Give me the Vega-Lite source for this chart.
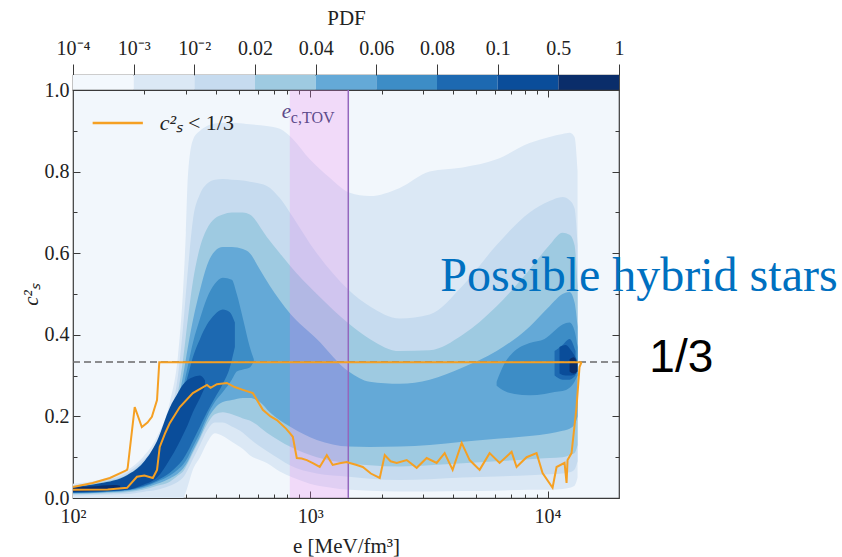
{
"$schema": "https://vega.github.io/schema/vega-lite/v6.json",
"background": "white",
"padding": {"left": 19, "top": 6, "right": 0, "bottom": 0},
"spacing": 0,
"bounds": "flush",
"datasets": {
"cbar": [
{"lvl":1,"a":0,"b":1},{"lvl":2,"a":1,"b":2},{"lvl":3,"a":2,"b":3},{"lvl":4,"a":3,"b":4},{"lvl":5,"a":4,"b":5},{"lvl":6,"a":5,"b":6},{"lvl":7,"a":6,"b":7},{"lvl":8,"a":7,"b":8},{"lvl":9,"a":8,"b":9}
],
"cont": [
{"lvl":2,"part":"a","e":100,"lo":0,"hi":0.035},{"lvl":2,"part":"a","e":130,"lo":0,"hi":0.045},{"lvl":2,"part":"a","e":169,"lo":0,"hi":0.068},{"lvl":2,"part":"a","e":197,"lo":0,"hi":0.10},{"lvl":2,"part":"a","e":226,"lo":0,"hi":0.15},{"lvl":2,"part":"a","e":256,"lo":0,"hi":0.235},{"lvl":2,"part":"a","e":277,"lo":0,"hi":0.35},{"lvl":2,"part":"a","e":291,"lo":0,"hi":0.51},{"lvl":2,"part":"a","e":299,"lo":0.015,"hi":0.65},{"lvl":2,"part":"a","e":305,"lo":0.03,"hi":0.79},{"lvl":2,"part":"a","e":320,"lo":0.069,"hi":0.877},{"lvl":2,"part":"a","e":343,"lo":0.10,"hi":0.90},{"lvl":2,"part":"a","e":367,"lo":0.135,"hi":0.912},{"lvl":2,"part":"a","e":396,"lo":0.159,"hi":0.918},{"lvl":2,"part":"a","e":428,"lo":0.152,"hi":0.92},{"lvl":2,"part":"a","e":467,"lo":0.138,"hi":0.92},{"lvl":2,"part":"a","e":520,"lo":0.12,"hi":0.918},{"lvl":2,"part":"a","e":556,"lo":0.105,"hi":0.916},{"lvl":2,"part":"a","e":656,"lo":0.086,"hi":0.912},{"lvl":2,"part":"a","e":744,"lo":0.065,"hi":0.905},{"lvl":2,"part":"a","e":844,"lo":0.05,"hi":0.88},{"lvl":2,"part":"a","e":995,"lo":0.035,"hi":0.83},{"lvl":2,"part":"a","e":1208,"lo":0.026,"hi":0.785},{"lvl":2,"part":"a","e":1466,"lo":0.02,"hi":0.748},{"lvl":2,"part":"a","e":1780,"lo":0.018,"hi":0.74},{"lvl":2,"part":"a","e":2382,"lo":0.016,"hi":0.76},{"lvl":2,"part":"a","e":3185,"lo":0.016,"hi":0.80},{"lvl":2,"part":"a","e":4387,"lo":0.017,"hi":0.81},{"lvl":2,"part":"a","e":6100,"lo":0.018,"hi":0.83},{"lvl":2,"part":"a","e":8400,"lo":0.02,"hi":0.87},{"lvl":2,"part":"a","e":10195,"lo":0.02,"hi":0.885},{"lvl":2,"part":"a","e":11566,"lo":0.022,"hi":0.892},{"lvl":2,"part":"a","e":12380,"lo":0.025,"hi":0.895},{"lvl":2,"part":"a","e":12990,"lo":0.03,"hi":0.885},{"lvl":2,"part":"a","e":13380,"lo":0.05,"hi":0.80},

{"lvl":3,"part":"a","e":100,"lo":0.006,"hi":0.031},{"lvl":3,"part":"a","e":130,"lo":0.008,"hi":0.041},{"lvl":3,"part":"a","e":169,"lo":0.01,"hi":0.062},{"lvl":3,"part":"a","e":197,"lo":0.015,"hi":0.092},{"lvl":3,"part":"a","e":226,"lo":0.02,"hi":0.135},{"lvl":3,"part":"a","e":256,"lo":0.03,"hi":0.205},{"lvl":3,"part":"a","e":277,"lo":0.04,"hi":0.30},{"lvl":3,"part":"a","e":291,"lo":0.05,"hi":0.42},{"lvl":3,"part":"a","e":305,"lo":0.07,"hi":0.56},{"lvl":3,"part":"a","e":320,"lo":0.095,"hi":0.68},{"lvl":3,"part":"a","e":343,"lo":0.13,"hi":0.745},{"lvl":3,"part":"a","e":367,"lo":0.165,"hi":0.77},{"lvl":3,"part":"a","e":396,"lo":0.185,"hi":0.78},{"lvl":3,"part":"a","e":428,"lo":0.185,"hi":0.782},{"lvl":3,"part":"a","e":467,"lo":0.175,"hi":0.78},{"lvl":3,"part":"a","e":520,"lo":0.16,"hi":0.778},{"lvl":3,"part":"a","e":556,"lo":0.145,"hi":0.775},{"lvl":3,"part":"a","e":656,"lo":0.115,"hi":0.765},{"lvl":3,"part":"a","e":744,"lo":0.095,"hi":0.735},{"lvl":3,"part":"a","e":820,"lo":0.08,"hi":0.70},{"lvl":3,"part":"a","e":1065,"lo":0.06,"hi":0.60},{"lvl":3,"part":"a","e":1452,"lo":0.052,"hi":0.51},{"lvl":3,"part":"a","e":1780,"lo":0.047,"hi":0.47},{"lvl":3,"part":"a","e":2382,"lo":0.044,"hi":0.44},{"lvl":3,"part":"a","e":3185,"lo":0.046,"hi":0.45},{"lvl":3,"part":"a","e":4387,"lo":0.05,"hi":0.52},{"lvl":3,"part":"a","e":6100,"lo":0.053,"hi":0.62},{"lvl":3,"part":"a","e":8400,"lo":0.056,"hi":0.70},{"lvl":3,"part":"a","e":10195,"lo":0.058,"hi":0.728},{"lvl":3,"part":"a","e":11566,"lo":0.06,"hi":0.738},{"lvl":3,"part":"a","e":12380,"lo":0.063,"hi":0.73},{"lvl":3,"part":"a","e":12990,"lo":0.07,"hi":0.71},{"lvl":3,"part":"a","e":13380,"lo":0.09,"hi":0.62},

{"lvl":4,"part":"a","e":100,"lo":0.009,"hi":0.029},{"lvl":4,"part":"a","e":130,"lo":0.011,"hi":0.038},{"lvl":4,"part":"a","e":169,"lo":0.014,"hi":0.057},{"lvl":4,"part":"a","e":197,"lo":0.02,"hi":0.086},{"lvl":4,"part":"a","e":226,"lo":0.03,"hi":0.125},{"lvl":4,"part":"a","e":256,"lo":0.04,"hi":0.185},{"lvl":4,"part":"a","e":277,"lo":0.055,"hi":0.26},{"lvl":4,"part":"a","e":291,"lo":0.065,"hi":0.34},{"lvl":4,"part":"a","e":305,"lo":0.085,"hi":0.44},{"lvl":4,"part":"a","e":320,"lo":0.11,"hi":0.53},{"lvl":4,"part":"a","e":343,"lo":0.145,"hi":0.615},{"lvl":4,"part":"a","e":367,"lo":0.18,"hi":0.66},{"lvl":4,"part":"a","e":396,"lo":0.205,"hi":0.685},{"lvl":4,"part":"a","e":428,"lo":0.21,"hi":0.695},{"lvl":4,"part":"a","e":467,"lo":0.205,"hi":0.70},{"lvl":4,"part":"a","e":520,"lo":0.195,"hi":0.70},{"lvl":4,"part":"a","e":556,"lo":0.19,"hi":0.695},{"lvl":4,"part":"a","e":656,"lo":0.16,"hi":0.64},{"lvl":4,"part":"a","e":744,"lo":0.14,"hi":0.60},{"lvl":4,"part":"a","e":820,"lo":0.126,"hi":0.57},{"lvl":4,"part":"a","e":1065,"lo":0.10,"hi":0.50},{"lvl":4,"part":"a","e":1452,"lo":0.085,"hi":0.428},{"lvl":4,"part":"a","e":1780,"lo":0.08,"hi":0.39},{"lvl":4,"part":"a","e":2382,"lo":0.077,"hi":0.36},{"lvl":4,"part":"a","e":3185,"lo":0.08,"hi":0.362},{"lvl":4,"part":"a","e":4387,"lo":0.085,"hi":0.40},{"lvl":4,"part":"a","e":6100,"lo":0.09,"hi":0.47},{"lvl":4,"part":"a","e":8400,"lo":0.095,"hi":0.56},{"lvl":4,"part":"a","e":10195,"lo":0.098,"hi":0.62},{"lvl":4,"part":"a","e":11566,"lo":0.10,"hi":0.65},{"lvl":4,"part":"a","e":12380,"lo":0.105,"hi":0.645},{"lvl":4,"part":"a","e":12990,"lo":0.11,"hi":0.62},{"lvl":4,"part":"a","e":13380,"lo":0.13,"hi":0.52},

{"lvl":5,"part":"a","e":100,"lo":0.011,"hi":0.027},{"lvl":5,"part":"a","e":130,"lo":0.013,"hi":0.035},{"lvl":5,"part":"a","e":169,"lo":0.017,"hi":0.053},{"lvl":5,"part":"a","e":197,"lo":0.024,"hi":0.08},{"lvl":5,"part":"a","e":226,"lo":0.035,"hi":0.117},{"lvl":5,"part":"a","e":256,"lo":0.048,"hi":0.172},{"lvl":5,"part":"a","e":277,"lo":0.06,"hi":0.24},{"lvl":5,"part":"a","e":291,"lo":0.072,"hi":0.30},{"lvl":5,"part":"a","e":305,"lo":0.09,"hi":0.37},{"lvl":5,"part":"a","e":320,"lo":0.115,"hi":0.435},{"lvl":5,"part":"a","e":343,"lo":0.15,"hi":0.51},{"lvl":5,"part":"a","e":367,"lo":0.19,"hi":0.57},{"lvl":5,"part":"a","e":396,"lo":0.22,"hi":0.605},{"lvl":5,"part":"a","e":428,"lo":0.235,"hi":0.615},{"lvl":5,"part":"a","e":467,"lo":0.24,"hi":0.615},{"lvl":5,"part":"a","e":520,"lo":0.245,"hi":0.61},{"lvl":5,"part":"a","e":556,"lo":0.245,"hi":0.60},{"lvl":5,"part":"a","e":613,"lo":0.235,"hi":0.56},{"lvl":5,"part":"a","e":675,"lo":0.21,"hi":0.52},{"lvl":5,"part":"a","e":820,"lo":0.175,"hi":0.453},{"lvl":5,"part":"a","e":1065,"lo":0.142,"hi":0.39},{"lvl":5,"part":"a","e":1452,"lo":0.126,"hi":0.31},{"lvl":5,"part":"a","e":1780,"lo":0.125,"hi":0.285},{"lvl":5,"part":"a","e":2382,"lo":0.126,"hi":0.28},{"lvl":5,"part":"a","e":3185,"lo":0.13,"hi":0.29},{"lvl":5,"part":"a","e":4387,"lo":0.138,"hi":0.32},{"lvl":5,"part":"a","e":6100,"lo":0.145,"hi":0.36},{"lvl":5,"part":"a","e":8400,"lo":0.152,"hi":0.42},{"lvl":5,"part":"a","e":10195,"lo":0.158,"hi":0.47},{"lvl":5,"part":"a","e":11566,"lo":0.165,"hi":0.50},{"lvl":5,"part":"a","e":12380,"lo":0.17,"hi":0.505},{"lvl":5,"part":"a","e":12990,"lo":0.18,"hi":0.48},{"lvl":5,"part":"a","e":13380,"lo":0.2,"hi":0.42},

{"lvl":6,"part":"a","e":100,"lo":0.012,"hi":0.026},{"lvl":6,"part":"a","e":130,"lo":0.014,"hi":0.033},{"lvl":6,"part":"a","e":169,"lo":0.019,"hi":0.05},{"lvl":6,"part":"a","e":197,"lo":0.027,"hi":0.076},{"lvl":6,"part":"a","e":226,"lo":0.04,"hi":0.112},{"lvl":6,"part":"a","e":256,"lo":0.055,"hi":0.165},{"lvl":6,"part":"a","e":277,"lo":0.07,"hi":0.225},{"lvl":6,"part":"a","e":291,"lo":0.082,"hi":0.27},{"lvl":6,"part":"a","e":305,"lo":0.10,"hi":0.325},{"lvl":6,"part":"a","e":320,"lo":0.125,"hi":0.38},{"lvl":6,"part":"a","e":343,"lo":0.16,"hi":0.44},{"lvl":6,"part":"a","e":367,"lo":0.20,"hi":0.49},{"lvl":6,"part":"a","e":396,"lo":0.235,"hi":0.525},{"lvl":6,"part":"a","e":428,"lo":0.26,"hi":0.54},{"lvl":6,"part":"a","e":467,"lo":0.29,"hi":0.535},{"lvl":6,"part":"a","e":490,"lo":0.31,"hi":0.50},{"lvl":6,"part":"a","e":520,"lo":0.315,"hi":0.44},{"lvl":6,"part":"a","e":556,"lo":0.32,"hi":0.37},{"lvl":6,"part":"a","e":578,"lo":0.335,"hi":0.34},
{"lvl":6,"part":"b","e":6100,"lo":0.275,"hi":0.285},{"lvl":6,"part":"b","e":6590,"lo":0.262,"hi":0.33},{"lvl":6,"part":"b","e":7262,"lo":0.255,"hi":0.36},{"lvl":6,"part":"b","e":8400,"lo":0.252,"hi":0.38},{"lvl":6,"part":"b","e":9714,"lo":0.255,"hi":0.39},{"lvl":6,"part":"b","e":10703,"lo":0.26,"hi":0.41},{"lvl":6,"part":"b","e":11566,"lo":0.262,"hi":0.425},{"lvl":6,"part":"b","e":12380,"lo":0.27,"hi":0.43},{"lvl":6,"part":"b","e":12990,"lo":0.285,"hi":0.41},{"lvl":6,"part":"b","e":13380,"lo":0.30,"hi":0.37},

{"lvl":7,"part":"a","e":100,"lo":0.013,"hi":0.025},{"lvl":7,"part":"a","e":130,"lo":0.015,"hi":0.032},{"lvl":7,"part":"a","e":169,"lo":0.02,"hi":0.048},{"lvl":7,"part":"a","e":197,"lo":0.029,"hi":0.072},{"lvl":7,"part":"a","e":226,"lo":0.043,"hi":0.108},{"lvl":7,"part":"a","e":256,"lo":0.062,"hi":0.16},{"lvl":7,"part":"a","e":277,"lo":0.08,"hi":0.215},{"lvl":7,"part":"a","e":291,"lo":0.095,"hi":0.26},{"lvl":7,"part":"a","e":305,"lo":0.115,"hi":0.30},{"lvl":7,"part":"a","e":320,"lo":0.14,"hi":0.345},{"lvl":7,"part":"a","e":343,"lo":0.175,"hi":0.39},{"lvl":7,"part":"a","e":367,"lo":0.21,"hi":0.425},{"lvl":7,"part":"a","e":396,"lo":0.245,"hi":0.45},{"lvl":7,"part":"a","e":428,"lo":0.28,"hi":0.462},{"lvl":7,"part":"a","e":458,"lo":0.32,"hi":0.455},{"lvl":7,"part":"a","e":481,"lo":0.37,"hi":0.43},
{"lvl":7,"part":"b","e":10703,"lo":0.30,"hi":0.36},{"lvl":7,"part":"b","e":11566,"lo":0.29,"hi":0.375},{"lvl":7,"part":"b","e":12380,"lo":0.29,"hi":0.39},{"lvl":7,"part":"b","e":13120,"lo":0.30,"hi":0.36},

{"lvl":8,"part":"a","e":100,"lo":0.014,"hi":0.027},{"lvl":8,"part":"a","e":130,"lo":0.016,"hi":0.036},{"lvl":8,"part":"a","e":169,"lo":0.02,"hi":0.056},{"lvl":8,"part":"a","e":197,"lo":0.032,"hi":0.086},{"lvl":8,"part":"a","e":226,"lo":0.05,"hi":0.14},{"lvl":8,"part":"a","e":256,"lo":0.095,"hi":0.222},{"lvl":8,"part":"a","e":277,"lo":0.13,"hi":0.258},{"lvl":8,"part":"a","e":291,"lo":0.155,"hi":0.278},{"lvl":8,"part":"a","e":305,"lo":0.18,"hi":0.29},{"lvl":8,"part":"a","e":320,"lo":0.21,"hi":0.296},{"lvl":8,"part":"a","e":343,"lo":0.245,"hi":0.30},{"lvl":8,"part":"a","e":360,"lo":0.272,"hi":0.288},
{"lvl":8,"part":"b","e":11230,"lo":0.305,"hi":0.37},{"lvl":8,"part":"b","e":11904,"lo":0.30,"hi":0.375},{"lvl":8,"part":"b","e":12619,"lo":0.30,"hi":0.36},{"lvl":8,"part":"b","e":13246,"lo":0.305,"hi":0.34},

{"lvl":9,"part":"a","e":100,"lo":0.016,"hi":0.025},{"lvl":9,"part":"a","e":118,"lo":0.017,"hi":0.028},{"lvl":9,"part":"a","e":150,"lo":0.02,"hi":0.032},{"lvl":9,"part":"a","e":158,"lo":0.024,"hi":0.03},
{"lvl":9,"part":"b","e":12380,"lo":0.31,"hi":0.34},{"lvl":9,"part":"b","e":12870,"lo":0.305,"hi":0.345},{"lvl":9,"part":"b","e":13380,"lo":0.31,"hi":0.33}
],
"orange": [
{"part":"u","e":100,"c":0.027},{"part":"u","e":121,"c":0.037},{"part":"u","e":143,"c":0.049},{"part":"u","e":165,"c":0.066},{"part":"u","e":169,"c":0.069},{"part":"u","e":170,"c":0.074},{"part":"u","e":182,"c":0.223},{"part":"u","e":195,"c":0.174},{"part":"u","e":206,"c":0.185},{"part":"u","e":215,"c":0.199},{"part":"u","e":226,"c":0.240},{"part":"u","e":231,"c":0.333},{"part":"u","e":13906,"c":0.333},
{"part":"l","e":100,"c":0.020},{"part":"l","e":140,"c":0.021},{"part":"l","e":169,"c":0.025},{"part":"l","e":186,"c":0.052},{"part":"l","e":200,"c":0.055},{"part":"l","e":217,"c":0.049},{"part":"l","e":226,"c":0.069},{"part":"l","e":232,"c":0.125},{"part":"l","e":245,"c":0.16},{"part":"l","e":256,"c":0.184},{"part":"l","e":282,"c":0.223},{"part":"l","e":320,"c":0.257},{"part":"l","e":367,"c":0.277},{"part":"l","e":380,"c":0.27},{"part":"l","e":404,"c":0.279},{"part":"l","e":445,"c":0.282},{"part":"l","e":480,"c":0.272},{"part":"l","e":520,"c":0.265},{"part":"l","e":573,"c":0.257},{"part":"l","e":631,"c":0.216},{"part":"l","e":680,"c":0.20},{"part":"l","e":723,"c":0.191},{"part":"l","e":790,"c":0.17},{"part":"l","e":820,"c":0.159},{"part":"l","e":844,"c":0.150},{"part":"l","e":877,"c":0.098},{"part":"l","e":920,"c":0.097},{"part":"l","e":967,"c":0.093},{"part":"l","e":1030,"c":0.085},{"part":"l","e":1096,"c":0.076},{"part":"l","e":1174,"c":0.105},{"part":"l","e":1243,"c":0.081},{"part":"l","e":1330,"c":0.085},{"part":"l","e":1424,"c":0.088},{"part":"l","e":1466,"c":0.086},{"part":"l","e":1570,"c":0.081},{"part":"l","e":1664,"c":0.076},{"part":"l","e":1800,"c":0.06},{"part":"l","e":1962,"c":0.049},{"part":"l","e":2060,"c":0.105},{"part":"l","e":2180,"c":0.09},{"part":"l","e":2313,"c":0.086},{"part":"l","e":2549,"c":0.093},{"part":"l","e":2808,"c":0.074},{"part":"l","e":3094,"c":0.098},{"part":"l","e":3409,"c":0.086},{"part":"l","e":3684,"c":0.110},{"part":"l","e":3981,"c":0.069},{"part":"l","e":4345,"c":0.135},{"part":"l","e":4695,"c":0.093},{"part":"l","e":5172,"c":0.069},{"part":"l","e":5698,"c":0.110},{"part":"l","e":6278,"c":0.086},{"part":"l","e":7054,"c":0.113},{"part":"l","e":7405,"c":0.076},{"part":"l","e":8160,"c":0.100},{"part":"l","e":8989,"c":0.110},{"part":"l","e":9526,"c":0.061},{"part":"l","e":10497,"c":0.025},{"part":"l","e":10912,"c":0.076},{"part":"l","e":11792,"c":0.086},{"part":"l","e":12023,"c":0.037},{"part":"l","e":12140,"c":0.093},{"part":"l","e":12619,"c":0.110},{"part":"l","e":13246,"c":0.223},{"part":"l","e":13636,"c":0.321},{"part":"l","e":13906,"c":0.333}
]
},
"vconcat": [
{
"width": 546, "height": 15,
"data": {"name": "cbar"},
"mark": {"type": "rect"},
"encoding": {
"x": {"field": "a", "type": "quantitative", "scale": {"domain": [0, 9], "nice": false, "zero": false},
"axis": {"orient": "top", "values": [0,1,2,3,4,5,6,7,8,9], "labelExpr": "['10⁻⁴','10⁻³','10⁻²','0.02','0.04','0.06','0.08','0.1','0.5','1'][datum.value]", "tickSize": 11, "labelPadding": 6, "title": "PDF", "titlePadding": 10}},
"x2": {"field": "b"},
"color": {"field": "lvl", "type": "ordinal", "scale": {"domain": [1,2,3,4,5,6,7,8,9], "range": ["#f3f8fd","#dbe8f5","#c6dbef","#9ecae1","#64a9d7","#3d8dc6","#1d69b1","#0a4d9a","#0a2d6a"]}, "legend": null}
}
},
{
"width": 546, "height": 408,
"view": {"fill": "#f2f7fc"},
"resolve": {"axis": {"x": "independent", "y": "independent"}},
"layer": [
{"data": {"name": "cont"}, "transform": [{"filter": "datum.lvl == 2"}],
 "mark": {"type": "area", "interpolate": "monotone"},
 "encoding": {
  "x": {"field": "e", "type": "quantitative", "scale": {"type": "log", "domain": [100, 20000], "nice": false},
   "axis": {"orient": "bottom", "values": [100, 1000, 10000], "labelExpr": "datum.value == 100 ? '10²' : datum.value == 1000 ? '10³' : '10⁴'", "tickSize": -7, "labelPadding": 15, "title": "e [MeV/fm³]", "titlePadding": 9}},
  "y": {"field": "lo", "type": "quantitative", "scale": {"domain": [0, 1], "nice": false, "zero": false},
   "axis": {"orient": "left", "values": [0, 0.2, 0.4, 0.6, 0.8, 1], "format": ".1f", "tickSize": -7, "labelPadding": 11, "title": "c²ₛ", "titleFontStyle": "italic", "titlePadding": 3}},
  "y2": {"field": "hi"},
  "detail": {"field": "part"},
  "color": {"field": "lvl", "type": "ordinal", "scale": {"domain": [1,2,3,4,5,6,7,8,9], "range": ["#f3f8fd","#dbe8f5","#c6dbef","#9ecae1","#64a9d7","#3d8dc6","#1d69b1","#0a4d9a","#0a2d6a"]}, "legend": null}
 }},
{"data": {"name": "cont"}, "transform": [{"filter": "datum.lvl == 3"}],
 "mark": {"type": "area", "interpolate": "monotone"},
 "encoding": {
  "x": {"field": "e", "type": "quantitative", "scale": {"type": "log", "domain": [100, 20000], "nice": false},
   "axis": {"orient": "bottom", "values": [200,300,400,500,600,700,800,900,2000,3000,4000,5000,6000,7000,8000,9000], "labels": false, "tickSize": -4, "title": null}},
  "y": {"field": "lo", "type": "quantitative", "scale": {"domain": [0, 1], "nice": false, "zero": false},
   "axis": {"orient": "left", "values": [0.1, 0.3, 0.5, 0.7, 0.9], "labels": false, "tickSize": -4, "title": null}},
  "y2": {"field": "hi"},
  "detail": {"field": "part"},
  "color": {"field": "lvl", "type": "ordinal", "legend": null}
 }},
{"data": {"name": "cont"}, "transform": [{"filter": "datum.lvl == 4"}],
 "mark": {"type": "area", "interpolate": "monotone"},
 "encoding": {
  "x": {"field": "e", "type": "quantitative", "scale": {"type": "log", "domain": [100, 20000], "nice": false},
   "axis": {"orient": "top", "values": [1000, 10000], "labels": false, "tickSize": -7, "title": null}},
  "y": {"field": "lo", "type": "quantitative", "scale": {"domain": [0, 1], "nice": false, "zero": false},
   "axis": {"orient": "right", "values": [0.2, 0.4, 0.6, 0.8], "labels": false, "tickSize": -7, "title": null}},
  "y2": {"field": "hi"},
  "detail": {"field": "part"},
  "color": {"field": "lvl", "type": "ordinal", "legend": null}
 }},
{"data": {"name": "cont"}, "transform": [{"filter": "datum.lvl == 5"}],
 "mark": {"type": "area", "interpolate": "monotone"},
 "encoding": {
  "x": {"field": "e", "type": "quantitative", "scale": {"type": "log", "domain": [100, 20000], "nice": false},
   "axis": {"orient": "top", "values": [200,300,400,500,600,700,800,900,2000,3000,4000,5000,6000,7000,8000,9000], "labels": false, "tickSize": -4, "title": null}},
  "y": {"field": "lo", "type": "quantitative", "scale": {"domain": [0, 1], "nice": false, "zero": false},
   "axis": {"orient": "right", "values": [0.1, 0.3, 0.5, 0.7, 0.9], "labels": false, "tickSize": -4, "title": null}},
  "y2": {"field": "hi"},
  "detail": {"field": "part"},
  "color": {"field": "lvl", "type": "ordinal", "legend": null}
 }},
{"data": {"name": "cont"}, "transform": [{"filter": "datum.lvl == 6"}],
 "mark": {"type": "area", "interpolate": "monotone"},
 "encoding": {
  "x": {"field": "e", "type": "quantitative", "scale": {"type": "log", "domain": [100, 20000], "nice": false}, "axis": null},
  "y": {"field": "lo", "type": "quantitative", "scale": {"domain": [0, 1], "nice": false, "zero": false}, "axis": null},
  "y2": {"field": "hi"}, "detail": {"field": "part"},
  "color": {"field": "lvl", "type": "ordinal", "legend": null}
 }},
{"data": {"name": "cont"}, "transform": [{"filter": "datum.lvl == 7"}],
 "mark": {"type": "area", "interpolate": "monotone"},
 "encoding": {
  "x": {"field": "e", "type": "quantitative", "scale": {"type": "log", "domain": [100, 20000], "nice": false}, "axis": null},
  "y": {"field": "lo", "type": "quantitative", "scale": {"domain": [0, 1], "nice": false, "zero": false}, "axis": null},
  "y2": {"field": "hi"}, "detail": {"field": "part"},
  "color": {"field": "lvl", "type": "ordinal", "legend": null}
 }},
{"data": {"name": "cont"}, "transform": [{"filter": "datum.lvl == 8"}],
 "mark": {"type": "area", "interpolate": "monotone"},
 "encoding": {
  "x": {"field": "e", "type": "quantitative", "scale": {"type": "log", "domain": [100, 20000], "nice": false}, "axis": null},
  "y": {"field": "lo", "type": "quantitative", "scale": {"domain": [0, 1], "nice": false, "zero": false}, "axis": null},
  "y2": {"field": "hi"}, "detail": {"field": "part"},
  "color": {"field": "lvl", "type": "ordinal", "legend": null}
 }},
{"data": {"name": "cont"}, "transform": [{"filter": "datum.lvl == 9"}],
 "mark": {"type": "area", "interpolate": "monotone"},
 "encoding": {
  "x": {"field": "e", "type": "quantitative", "scale": {"type": "log", "domain": [100, 20000], "nice": false}, "axis": null},
  "y": {"field": "lo", "type": "quantitative", "scale": {"domain": [0, 1], "nice": false, "zero": false}, "axis": null},
  "y2": {"field": "hi"}, "detail": {"field": "part"},
  "color": {"field": "lvl", "type": "ordinal", "legend": null}
 }},
{"data": {"values": [{}]},
 "mark": {"type": "rect", "color": "#ee82ee", "opacity": 0.25},
 "encoding": {
  "x": {"datum": 820, "type": "quantitative", "scale": {"type": "log", "domain": [100, 20000], "nice": false}, "axis": null},
  "x2": {"datum": 1446}
 }},
{"data": {"values": [{}]},
 "mark": {"type": "rule", "color": "#9467bd", "strokeWidth": 1.5},
 "encoding": {
  "x": {"datum": 1446, "type": "quantitative", "scale": {"type": "log", "domain": [100, 20000], "nice": false}, "axis": null}
 }},
{"data": {"values": [{}]},
 "mark": {"type": "rule", "color": "#6a6a6a", "strokeWidth": 1.5, "strokeDash": [7, 4]},
 "encoding": {
  "y": {"datum": 0.3333, "type": "quantitative", "scale": {"domain": [0, 1], "nice": false, "zero": false}, "axis": null}
 }},
{"data": {"name": "orange"},
 "mark": {"type": "line", "color": "#f5a023", "strokeWidth": 2},
 "encoding": {
  "x": {"field": "e", "type": "quantitative", "scale": {"type": "log", "domain": [100, 20000], "nice": false}, "axis": null},
  "y": {"field": "c", "type": "quantitative", "scale": {"domain": [0, 1], "nice": false, "zero": false}, "axis": null},
  "detail": {"field": "part"}
 }},
{"data": {"values": [{}]},
 "mark": {"type": "rule", "color": "#f5a023", "strokeWidth": 2.5},
 "encoding": {
  "x": {"datum": 121, "type": "quantitative", "scale": {"type": "log", "domain": [100, 20000], "nice": false}, "axis": null},
  "x2": {"datum": 197},
  "y": {"datum": 0.919, "type": "quantitative", "scale": {"domain": [0, 1], "nice": false, "zero": false}, "axis": null}
 }},
{"data": {"values": [{}]},
 "mark": {"type": "text", "text": "c²ₛ", "font": "Liberation Serif", "fontSize": 22, "fontStyle": "italic", "align": "left", "baseline": "middle", "color": "#222"},
 "encoding": {
  "x": {"datum": 232, "type": "quantitative", "scale": {"type": "log", "domain": [100, 20000], "nice": false}, "axis": null},
  "y": {"datum": 0.919, "type": "quantitative", "scale": {"domain": [0, 1], "nice": false, "zero": false}, "axis": null}
 }},
{"data": {"values": [{}]},
 "mark": {"type": "text", "text": "< 1/3", "font": "Liberation Serif", "fontSize": 22, "align": "left", "baseline": "middle", "color": "#222"},
 "encoding": {
  "x": {"datum": 305, "type": "quantitative", "scale": {"type": "log", "domain": [100, 20000], "nice": false}, "axis": null},
  "y": {"datum": 0.919, "type": "quantitative", "scale": {"domain": [0, 1], "nice": false, "zero": false}, "axis": null}
 }},
{"data": {"values": [{}]},
 "mark": {"type": "text", "text": "e", "font": "Liberation Serif", "fontSize": 21, "fontStyle": "italic", "align": "left", "baseline": "middle", "color": "#5e4b8b"},
 "encoding": {
  "x": {"datum": 759, "type": "quantitative", "scale": {"type": "log", "domain": [100, 20000], "nice": false}, "axis": null},
  "y": {"datum": 0.946, "type": "quantitative", "scale": {"domain": [0, 1], "nice": false, "zero": false}, "axis": null}
 }},
{"data": {"values": [{}]},
 "mark": {"type": "text", "text": "c,TOV", "font": "Liberation Serif", "fontSize": 16, "align": "left", "baseline": "middle", "color": "#5e4b8b"},
 "encoding": {
  "x": {"datum": 828, "type": "quantitative", "scale": {"type": "log", "domain": [100, 20000], "nice": false}, "axis": null},
  "y": {"datum": 0.932, "type": "quantitative", "scale": {"domain": [0, 1], "nice": false, "zero": false}, "axis": null}
 }},
{"data": {"values": [{}]},
 "mark": {"type": "text", "text": "Possible hybrid stars", "font": "Liberation Serif", "fontSize": 48, "align": "left", "baseline": "alphabetic", "color": "#0070c0"},
 "encoding": {
  "x": {"datum": 3530, "type": "quantitative", "scale": {"type": "log", "domain": [100, 20000], "nice": false}, "axis": null},
  "y": {"datum": 0.507, "type": "quantitative", "scale": {"domain": [0, 1], "nice": false, "zero": false}, "axis": null}
 }},
{"data": {"values": [{}]},
 "mark": {"type": "text", "text": "1/3", "font": "Liberation Sans", "fontSize": 46, "align": "left", "baseline": "alphabetic", "color": "#000000"},
 "encoding": {
  "x": {"datum": 26850, "type": "quantitative", "scale": {"type": "log", "domain": [100, 20000], "nice": false}, "axis": null},
  "y": {"datum": 0.309, "type": "quantitative", "scale": {"domain": [0, 1], "nice": false, "zero": false}, "axis": null}
 }}
]
}
],
"config": {
"view": {"stroke": "#3a3a3a", "strokeWidth": 1.2},
"axis": {"grid": false, "domain": false, "labelFont": "Liberation Serif", "titleFont": "Liberation Serif", "labelFontSize": 20, "titleFontSize": 21, "titleFontWeight": "normal", "labelColor": "#222", "titleColor": "#222", "tickColor": "#3a3a3a", "tickWidth": 1, "labelFlush": false, "labelOverlap": false}
}
}
